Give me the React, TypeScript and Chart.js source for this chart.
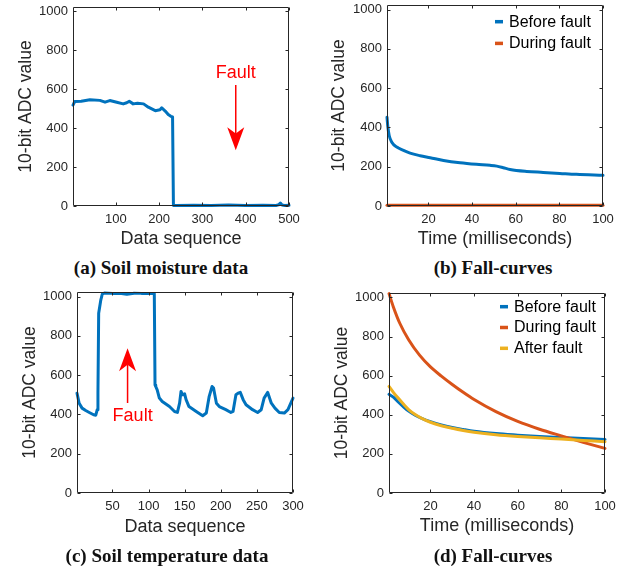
import React, { useEffect, useRef } from "react";
import { Chart, registerables } from "chart.js";

Chart.register(...registerables);

const BLUE = "#0072BD";
const ORANGE = "#D95319";
const YELLOW = "#EDB120";
const AXIS = "#262626";
const RED = "#FF0000";
const SANS = "'Liberation Sans', Arial, Helvetica, sans-serif";
const SERIF = "'Liberation Serif', 'Times New Roman', serif";

const Y_TICKS = [0, 200, 400, 600, 800, 1000];
const Y_MIN = 0;
const Y_MAX = 1023;
const Y_TITLE = "10-bit ADC value";

// (a) Soil moisture data
const A_X = [1, 5, 20, 40, 63, 75, 86, 102, 117, 125, 131, 140, 150, 164, 175, 191, 202, 206, 214, 221, 227, 231, 233, 240, 280, 320, 360, 400, 440, 470, 476, 480, 484, 490, 500];
const A_Y = [519, 537, 538, 546, 543, 534, 542, 533, 525, 531, 538, 525, 528, 525, 508, 490, 495, 505, 488, 470, 461, 458, 3, 3, 4, 3, 5, 3, 4, 3, 6, 15, 5, 3, 4];
const A_XTICKS = [100, 200, 300, 400, 500];
const A_FAULT = { x: 377, textY: 684, tail: 622, tip: 287 };

// (b) Fall-curves
const B_X = [1, 1.4, 2, 3.2, 5.5, 8.6, 11.6, 16.2, 20.8, 26.9, 34.5, 42, 48.2, 51.3, 54.3, 57.4, 65, 72.6, 80.2, 87.8, 100];
const B_BEFORE = [452, 402, 359, 325, 300, 283, 269, 256, 246, 232, 220, 212, 207, 203, 195, 186, 176, 171, 166, 161, 156];
const B_X_DURING = [1, 25, 50, 75, 100];
const B_DURING = [4, 4, 4, 4, 4];
const B_XTICKS = [20, 40, 60, 80, 100];

// (c) Soil temperature data
const C_X = [1, 4, 8, 13, 18, 24, 27, 29, 30, 31, 34, 36, 39, 50, 60, 70, 80, 90, 100, 107, 108, 109, 110, 112, 115, 119, 129, 136, 140, 143, 145, 147, 150, 152, 156, 166, 175, 180, 184, 188, 190, 194, 198, 207, 214, 217, 221, 224, 227, 231, 235, 244, 251, 256, 260, 265, 270, 275, 281, 288, 293, 300];
const C_Y = [508, 457, 432, 420, 410, 398, 396, 424, 508, 915, 983, 1012, 1018, 1016, 1016, 1011, 1017, 1016, 1016, 1016, 1015, 550, 542, 525, 483, 466, 440, 415, 410, 457, 517, 500, 505, 475, 440, 415, 393, 407, 492, 542, 534, 457, 440, 424, 410, 415, 500, 508, 512, 475, 449, 424, 410, 424, 483, 512, 457, 432, 410, 407, 424, 483];
const C_XTICKS = [50, 100, 150, 200, 250, 300];
const C_FAULT = { x: 71, textX: 78, textY: 390, tail: 458, tip: 737 };

// (d) Fall-curves
const D_X = [1, 3, 5, 8, 10, 13, 16, 20, 25, 30, 35, 40, 50, 60, 70, 80, 90, 100];
const D_BEFORE = [505, 490, 468, 437, 419, 398, 382, 365, 348, 335, 325, 316, 304, 296, 289, 284, 279, 274];
const D_X_DURING = [1, 3, 6, 10, 15, 20, 25, 30, 35, 40, 50, 60, 70, 80, 90, 100];
const D_DURING = [1020, 952, 867, 784, 705, 645, 598, 555, 515, 478, 416, 366, 326, 292, 259, 228];
const D_AFTER = [545, 515, 488, 450, 427, 401, 382, 362, 344, 331, 320, 311, 298, 289, 282, 276, 269, 262];
const D_XTICKS = [20, 40, 60, 80, 100];

const framePlugin = {
  id: "frame",
  afterDatasetsDraw(chart: any) {
    const { ctx, chartArea: a, scales } = chart;
    const xs = scales.x;
    const ys = scales.y;
    const L = Math.round(a.left) + 0.5;
    const R = Math.round(a.right) - 0.5;
    const T = Math.round(a.top) + 0.5;
    const B = Math.round(a.bottom) - 0.5;
    ctx.save();
    ctx.strokeStyle = AXIS;
    ctx.lineWidth = 1;
    ctx.beginPath();
    ctx.rect(L, T, R - L, B - T);
    const tl = 3;
    xs.ticks.forEach((t: any) => {
      const px = Math.round(xs.getPixelForValue(t.value)) + 0.5;
      ctx.moveTo(px, B);
      ctx.lineTo(px, B - tl);
      ctx.moveTo(px, T);
      ctx.lineTo(px, T + tl);
    });
    ys.ticks.forEach((t: any) => {
      const py = Math.round(ys.getPixelForValue(t.value)) + 0.5;
      ctx.moveTo(L, py);
      ctx.lineTo(L + tl, py);
      ctx.moveTo(R, py);
      ctx.lineTo(R - tl, py);
    });
    ctx.stroke();
    ctx.restore();
  },
};

const legendPlugin = {
  id: "innerLegend",
  afterDraw(chart: any, _args: any, opts: any) {
    if (!opts || !opts.show) return;
    const { ctx, chartArea: a } = chart;
    ctx.save();
    ctx.font = `16px ${SANS}`;
    ctx.textBaseline = "middle";
    ctx.textAlign = "left";
    chart.data.datasets.forEach((ds: any, i: number) => {
      const cy = a.top + opts.top + i * opts.rowGap;
      const sx = a.right - opts.right;
      ctx.fillStyle = ds.borderColor;
      ctx.fillRect(sx, cy - 1.75, opts.swatch, 3.5);
      ctx.fillStyle = "#000";
      ctx.fillText(ds.label, sx + opts.textGap, cy + 0.5);
    });
    ctx.restore();
  },
};

const faultPlugin = {
  id: "fault",
  afterDatasetsDraw(chart: any, _args: any, o: any) {
    if (!o || o.x === undefined) return;
    const { ctx, scales } = chart;
    const xs = scales.x;
    const ys = scales.y;
    const px = xs.getPixelForValue(o.x);
    const pTail = ys.getPixelForValue(o.tail);
    const pTip = ys.getPixelForValue(o.tip);
    const dir = pTip > pTail ? 1 : -1;
    const hl = 23;
    const hw = 8.5;
    ctx.save();
    ctx.strokeStyle = RED;
    ctx.fillStyle = RED;
    ctx.lineWidth = 1.5;
    ctx.beginPath();
    ctx.moveTo(px, pTail);
    ctx.lineTo(px, pTip - dir * hl * 0.7);
    ctx.stroke();
    ctx.beginPath();
    ctx.moveTo(px, pTip);
    ctx.lineTo(px - hw, pTip - dir * hl);
    ctx.lineTo(px, pTip - dir * hl * 0.72);
    ctx.lineTo(px + hw, pTip - dir * hl);
    ctx.closePath();
    ctx.fill();
    ctx.font = `18px ${SANS}`;
    ctx.textAlign = "center";
    ctx.textBaseline = "middle";
    const tx = xs.getPixelForValue(o.textX !== undefined ? o.textX : o.x);
    ctx.fillText("Fault", tx, ys.getPixelForValue(o.textY));
    ctx.restore();
  },
};

type Series = { label: string; xs: number[]; ys: number[]; color: string; order: number };
type Panel = {
  left: number;
  top: number;
  w: number;
  h: number;
  padTop: number;
  padRight: number;
  yWidth: number;
  xHeight: number;
  xTitlePad: number;
  yTitlePad: number;
  xMax: number;
  xTicks: number[];
  xTitle: string;
  smooth: boolean;
  series: Series[];
  legend?: any;
  fault?: any;
};

function makeConfig(p: Panel): any {
  const tickFont = { family: SANS, size: 13 };
  const xTitleFont = { family: SANS, size: 18 };
  const yTitleFont = { family: SANS, size: 17.5 };
  const zeroPad = (s: any) => {
    s.paddingTop = 0;
    s.paddingBottom = 0;
    s.paddingLeft = 0;
    s.paddingRight = 0;
  };
  return {
    type: "line",
    data: {
      datasets: p.series.map((s) => ({
        label: s.label,
        data: s.xs.map((x, i) => ({ x, y: s.ys[i] })),
        borderColor: s.color,
        backgroundColor: s.color,
        borderWidth: 3,
        pointRadius: 0,
        fill: false,
        tension: p.smooth ? 0.4 : 0,
        cubicInterpolationMode: p.smooth ? "monotone" : "default",
        order: s.order,
        clip: 4,
        borderJoinStyle: "round",
        borderCapStyle: "round",
      })),
    },
    options: {
      responsive: false,
      animation: false,
      events: [],
      layout: { padding: { left: 0, top: p.padTop, right: p.padRight, bottom: 0 } },
      plugins: {
        legend: { display: false },
        tooltip: { enabled: false },
        innerLegend: p.legend || { show: false },
        fault: p.fault || {},
      },
      scales: {
        x: {
          type: "linear",
          min: 1,
          max: p.xMax,
          afterBuildTicks: (s: any) => {
            s.ticks = p.xTicks.map((v) => ({ value: v }));
          },
          afterFit: (s: any) => {
            s.height = p.xHeight;
            zeroPad(s);
          },
          grid: { display: false, drawTicks: false },
          border: { display: false },
          ticks: {
            padding: 6,
            color: AXIS,
            font: tickFont,
            maxRotation: 0,
            autoSkip: false,
            callback: (v: any) => String(v),
          },
          title: {
            display: true,
            text: p.xTitle,
            color: AXIS,
            font: xTitleFont,
            padding: { top: 0, bottom: p.xTitlePad },
          },
        },
        y: {
          type: "linear",
          min: Y_MIN,
          max: Y_MAX,
          afterBuildTicks: (s: any) => {
            s.ticks = Y_TICKS.map((v) => ({ value: v }));
          },
          afterFit: (s: any) => {
            s.width = p.yWidth;
            zeroPad(s);
          },
          grid: { display: false, drawTicks: false },
          border: { display: false },
          ticks: {
            padding: 5,
            color: AXIS,
            font: tickFont,
            autoSkip: false,
            callback: (v: any) => String(v),
          },
          title: {
            display: true,
            text: Y_TITLE,
            color: AXIS,
            font: yTitleFont,
            padding: { top: p.yTitlePad, bottom: 0 },
          },
        },
      },
    },
    plugins: [framePlugin, legendPlugin, faultPlugin],
  };
}

const PANELS: Panel[] = [
  {
    left: 0, top: 0, w: 310, h: 256, padTop: 7, padRight: 21, yWidth: 73, xHeight: 50,
    xTitlePad: 6, yTitlePad: 16, xMax: 500, xTicks: A_XTICKS, xTitle: "Data sequence", smooth: false,
    series: [{ label: "Soil moisture", xs: A_X, ys: A_Y, color: BLUE, order: 0 }],
    fault: A_FAULT,
  },
  {
    left: 310, top: 0, w: 315, h: 256, padTop: 5, padRight: 22, yWidth: 77, xHeight: 50,
    xTitlePad: 6, yTitlePad: 19, xMax: 100, xTicks: B_XTICKS, xTitle: "Time (milliseconds)", smooth: true,
    series: [
      { label: "Before fault", xs: B_X, ys: B_BEFORE, color: BLUE, order: 1 },
      { label: "During fault", xs: B_X_DURING, ys: B_DURING, color: ORANGE, order: 0 },
    ],
    legend: { show: true, top: 16.7, rowGap: 21.7, right: 108, swatch: 8, textGap: 14 },
  },
  {
    left: 0, top: 280, w: 310, h: 270, padTop: 12, padRight: 17, yWidth: 77, xHeight: 57,
    xTitlePad: 12.5, yTitlePad: 20, xMax: 300, xTicks: C_XTICKS, xTitle: "Data sequence", smooth: false,
    series: [{ label: "Soil temperature", xs: C_X, ys: C_Y, color: BLUE, order: 0 }],
    fault: C_FAULT,
  },
  {
    left: 310, top: 280, w: 315, h: 270, padTop: 13, padRight: 20, yWidth: 79, xHeight: 57,
    xTitlePad: 13, yTitlePad: 22, xMax: 100, xTicks: D_XTICKS, xTitle: "Time (milliseconds)", smooth: true,
    series: [
      { label: "Before fault", xs: D_X, ys: D_BEFORE, color: BLUE, order: 2 },
      { label: "During fault", xs: D_X_DURING, ys: D_DURING, color: ORANGE, order: 1 },
      { label: "After fault", xs: D_X, ys: D_AFTER, color: YELLOW, order: 0 },
    ],
    legend: { show: true, top: 13.7, rowGap: 20.8, right: 105, swatch: 8, textGap: 14 },
  },
];

const CAPTIONS = [
  { text: "(a) Soil moisture data", cx: 161, cy: 268 },
  { text: "(b) Fall-curves", cx: 493, cy: 268 },
  { text: "(c) Soil temperature data", cx: 167, cy: 556 },
  { text: "(d) Fall-curves", cx: 493, cy: 556 },
];

function PanelChart({ p }: { p: Panel }) {
  const ref = useRef<HTMLCanvasElement | null>(null);
  useEffect(() => {
    if (!ref.current) return;
    const chart = new Chart(ref.current, makeConfig(p));
    return () => chart.destroy();
  }, [p]);
  return (
    <div style={{ position: "absolute", left: p.left, top: p.top, width: p.w, height: p.h }}>
      <canvas ref={ref} width={p.w} height={p.h} style={{ display: "block", width: p.w, height: p.h }} />
    </div>
  );
}

export default function App() {
  return (
    <div style={{ position: "absolute", left: 0, top: 0, width: 625, height: 569, background: "#fff", overflow: "hidden" }}>
      {PANELS.map((p, i) => (
        <PanelChart key={i} p={p} />
      ))}
      {CAPTIONS.map((c, i) => (
        <div
          key={"c" + i}
          style={{
            position: "absolute",
            left: c.cx - 160,
            top: c.cy - 11,
            width: 320,
            height: 22,
            lineHeight: "22px",
            textAlign: "center",
            fontFamily: SERIF,
            fontWeight: "bold",
            fontSize: 19,
            color: "#111",
            whiteSpace: "nowrap",
          }}
        >
          {c.text}
        </div>
      ))}
    </div>
  );
}
